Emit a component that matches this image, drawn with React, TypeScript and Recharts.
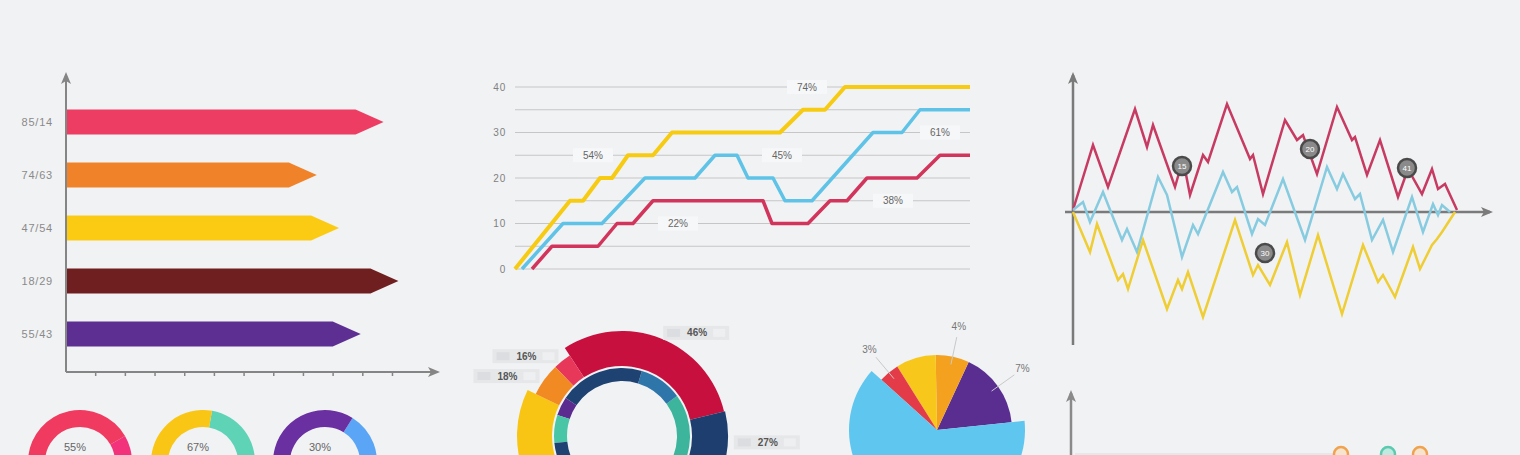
import React from 'react';
import {
  BarChart, Bar, XAxis, YAxis, LineChart, Line, CartesianGrid, ReferenceLine,
  ReferenceDot, PieChart, Pie, Cell, Label, ScatterChart, Scatter,
} from 'recharts';

const BG = '#f1f2f4';
const FONT = '"Liberation Sans", Arial, sans-serif';
const AXIS = '#858585';

// ---------- Panel 1: arrow bars ----------
const barCategories = ['85/14', '74/63', '47/54', '18/29', '55/43'];
const barValues = [10.7, 8.45, 9.2, 11.2, 9.93];
const barColors = ['#ee3d63', '#f0832a', '#fbcb14', '#6f1f1f', '#5e2f92'];
const barTicks = [1, 2, 3, 4, 5, 6, 7, 8, 9, 10, 11];

// ---------- Panel 2: stepped lines ----------
const yellowX = [0, 55, 68, 85, 97, 113, 138, 157, 265, 288, 310, 330, 455];
const yellowY = [0, 15, 15, 20, 20, 25, 25, 30, 30, 35, 35, 40, 40];
const blueX = [7, 48, 87, 130, 180, 200, 222, 233, 258, 270, 297, 358, 387, 405, 455];
const blueY = [0, 10, 10, 20, 20, 25, 25, 20, 20, 15, 15, 30, 30, 35, 35];
const redX = [17, 37, 83, 102, 118, 138, 248, 257, 293, 315, 332, 352, 402, 425, 455];
const redY = [0, 5, 5, 10, 10, 15, 15, 10, 10, 15, 15, 20, 20, 25, 25];
const stepTicks = [0, 5, 10, 15, 20, 25, 30, 35, 40];
const stepNoteX = [292, 78, 267, 425, 163, 378];
const stepNoteY = [40, 25, 25, 30, 10, 15];
const stepNoteText = ['74%', '54%', '45%', '61%', '22%', '38%'];

// ---------- Panel 3: random walks ----------
const walkRedX = [0, 20, 35, 62, 74, 80, 102, 110, 117, 130, 135, 154, 177, 180, 190, 212, 224, 230, 244, 264, 279, 282, 294, 307, 325, 335, 349, 359, 365, 372, 384];
const walkRedY = [2, 67, 25, 103, 65, 87, 25, 53, 17, 57, 50, 108, 53, 57, 18, 92, 72, 77, 38, 105, 72, 75, 37, 72, 15, 43, 18, 43, 23, 28, 2];
const walkBlueX = [0, 10, 17, 30, 49, 54, 64, 85, 94, 109, 120, 125, 150, 159, 164, 179, 185, 192, 210, 232, 254, 264, 270, 282, 287, 299, 310, 320, 339, 350, 360, 365, 369, 377];
const walkBlueY = [2, 10, -10, 20, -28, -17, -40, 35, 17, -45, -13, -22, 40, 20, 25, -22, -7, -13, 33, -28, 45, 23, 38, 13, 18, -28, -8, -40, 15, -20, 8, -3, 7, 0];
const walkYellowX = [0, 17, 24, 45, 50, 55, 70, 94, 105, 109, 115, 130, 162, 180, 185, 197, 214, 227, 245, 269, 290, 305, 310, 322, 340, 347, 359, 364, 369, 382];
const walkYellowY = [0, -40, -12, -68, -62, -77, -28, -97, -68, -77, -60, -105, -8, -63, -53, -73, -30, -83, -23, -102, -33, -70, -63, -85, -35, -57, -33, -27, -20, 0];
const walkNoteX = [109, 237, 334, 192];
const walkNoteY = [46, 63, 44, -41];
const walkNoteText = ['15', '20', '41', '30'];

// ---------- Panel 4: small donuts ----------
const donutLabels = ['55%', '67%', '30%'];
const donutValues = [[120, 145, 95], [170, 190], [148, 212]];
const donutColors = [['#f2337c', '#f03a5f', '#f58a2d'], ['#5fd3b6', '#f9c615'], ['#5aa5f6', '#6a2fa0']];

// ---------- Panel 5: gear donut ----------
const gearOuterValues = [109.5, 11, 20, 96, 90, 33.5];
const gearOuterColors = ['#c8103f', '#e8385a', '#f28a23', '#f8c514', '#1d3e6e', '#1d3e6e'];
const gearOuterRadius = [105, 96, 96, 105, 100, 106];
const gearOuterLabels = ['46%', '16%', '18%', '', '', '27%'];
const gearInnerValues = [76, 37, 73, 16, 24, 134];
const gearInnerColors = ['#3db59c', '#2e76aa', '#1e4271', '#5b2b8f', '#49c6a6', '#1e4271'];

// ---------- Panel 6: pie ----------
const pieValues = [59, 26, 31, 16, 228];
const pieColors = ['#5a2d90', '#f4a11f', '#f8c71b', '#e33b48', '#5fc6ef'];
const pieRadius = [75, 75, 75, 75, 88];
const pieLabels = ['7%', '4%', '', '3%', ''];

// ---------- Panel 7: bottom right ----------
const dotOrangeX = [270, 349];
const dotOrangeY = [21, 21];
const dotTealX = [317];
const dotTealY = [21];

const RAD = Math.PI / 180;
const zip = (xs: number[], ys: number[]) => xs.map((x, i) => ({ x, y: ys[i] }));

const ArrowBar = (props: any) => {
  const { x, y, width, height, fill } = props;
  if (width <= 0) return null;
  const head = Math.min(28, width);
  const pts = `${x},${y} ${x + width - head},${y} ${x + width},${y + height / 2} ${x + width - head},${y + height} ${x},${y + height}`;
  return <polygon points={pts} fill={fill} />;
};

const NoteBox = (text: string) => (props: any) => {
  const { cx, cy } = props;
  return (
    <g>
      <rect x={cx - 20} y={cy - 7} width={40} height={14} fill="#f6f7f8" />
      <text x={cx} y={cy + 3.5} textAnchor="middle" fontSize={10} fill="#666" fontFamily={FONT}>{text}</text>
    </g>
  );
};

const Badge = (text: string) => (props: any) => {
  const { cx, cy } = props;
  return (
    <g>
      <circle cx={cx} cy={cy} r={9} fill="#8a8a8a" stroke="#4a4a4a" strokeWidth={2.5} />
      <text x={cx} y={cy + 3} textAnchor="middle" fontSize={8} fill="#fff" fontFamily={FONT}>{text}</text>
    </g>
  );
};

const P1 = { left: 0, top: 0, width: 450, height: 400, margin: { top: 75, right: 13, bottom: 18, left: 6 }, yW: 60, xH: 10 };
const P1plot = { l: P1.left + P1.margin.left + P1.yW, t: P1.top + P1.margin.top, r: P1.left + P1.width - P1.margin.right, b: P1.top + P1.height - P1.margin.bottom - P1.xH };
const P3 = { left: 1060, top: 65, width: 440, height: 290, margin: { top: 10, right: 10, bottom: 10, left: 5 }, xDom: [-8, 417], yDom: [-133, 137] };
const P3plot = { l: P3.left + P3.margin.left, t: P3.top + P3.margin.top, r: P3.left + P3.width - P3.margin.right, b: P3.top + P3.height - P3.margin.bottom };
const P3x0 = P3plot.l + (0 - P3.xDom[0]) * (P3plot.r - P3plot.l) / (P3.xDom[1] - P3.xDom[0]);
const P3y0 = P3plot.t + (P3.yDom[1] - 0) * (P3plot.b - P3plot.t) / (P3.yDom[1] - P3.yDom[0]);
const P7 = { left: 1058, top: 385, width: 440, height: 100, margin: { top: 8, right: 10, bottom: 10, left: 5 }, xDom: [-8, 417], yDom: [0, 82] };
const P7plot = { l: P7.left + P7.margin.left, t: P7.top + P7.margin.top, r: P7.left + P7.width - P7.margin.right };
const P7x0 = P7plot.l + (0 - P7.xDom[0]) * (P7plot.r - P7plot.l) / (P7.xDom[1] - P7.xDom[0]);

const arrowUp = (x: number, y: number) => `${x},${y} ${x - 5},${y + 12} ${x},${y + 9} ${x + 5},${y + 12}`;
const arrowRight = (x: number, y: number) => `${x},${y} ${x - 12},${y - 5} ${x - 9},${y} ${x - 12},${y + 5}`;

const abs = (left: number, top: number): React.CSSProperties => ({ position: 'absolute', left, top });

export default function App() {
  const barData = barCategories.map((name, i) => ({ name, value: barValues[i] }));

  const gearOuterData = gearOuterValues.map((v, i) => ({ name: 'o' + i, value: v }));
  const gearInnerData = gearInnerValues.map((v, i) => ({ name: 'i' + i, value: v }));
  const gearRadii = Array.from(new Set(gearOuterRadius));
  const pieData = pieValues.map((v, i) => ({ name: 'p' + i, value: v }));
  const pieRadii = Array.from(new Set(pieRadius));

  const gearLabel = (r: number) => (props: any) => {
    const { cx, cy, midAngle, index } = props;
    if (gearOuterRadius[index] !== r || !gearOuterLabels[index]) return null;
    const rr = r + 6;
    const px = cx + rr * Math.cos(-midAngle * RAD);
    const py = cy + rr * Math.sin(-midAngle * RAD);
    const right = Math.cos(-midAngle * RAD) >= 0;
    const x0 = right ? px : px - 66;
    return (
      <g key={'gl' + index}>
        <rect x={x0} y={py - 7} width={66} height={14} fill="#e6e7e9" />
        <rect x={x0 + 4} y={py - 4} width={13} height={8} fill="#dcdde0" />
        <rect x={x0 + 50} y={py - 4} width={12} height={8} fill="#eeeff1" />
        <text x={x0 + 34} y={py + 3.5} textAnchor="middle" fontSize={10} fontWeight="bold" fill="#555" fontFamily={FONT}>{gearOuterLabels[index]}</text>
      </g>
    );
  };

  const pieLabel = (r: number) => (props: any) => {
    const { cx, cy, midAngle, index } = props;
    if (pieRadius[index] !== r || !pieLabels[index]) return null;
    const c = Math.cos(-midAngle * RAD);
    const s = Math.sin(-midAngle * RAD);
    return (
      <g key={'pl' + index}>
        <line x1={cx + (r - 8) * c} y1={cy + (r - 8) * s} x2={cx + (r + 20) * c} y2={cy + (r + 20) * s} stroke="#c9c9c9" strokeWidth={1} />
        <text x={cx + (r + 30) * c} y={cy + (r + 30) * s + 3} textAnchor="middle" fontSize={10} fill="#777" fontFamily={FONT}>{pieLabels[index]}</text>
      </g>
    );
  };

  const donutCenters = [{ left: 13, top: 393 }, { left: 136, top: 393 }, { left: 258, top: 393 }];

  return (
    <div style={{ position: 'absolute', left: 0, top: 0, width: 1520, height: 455, background: BG, overflow: 'hidden', fontFamily: FONT }}>
      {/* Panel 1 */}
      <div style={abs(P1.left, P1.top)}>
        <BarChart width={P1.width} height={P1.height} data={barData} layout="vertical" margin={P1.margin}>
          <XAxis type="number" domain={[0, 12.5]} ticks={barTicks} tickFormatter={() => ''} height={P1.xH}
            axisLine={{ stroke: AXIS, strokeWidth: 2 }} tickLine={{ stroke: AXIS, strokeWidth: 1.5 }} tickSize={4} allowDataOverflow />
          <YAxis type="category" dataKey="name" width={P1.yW} padding={{ top: 20.5, bottom: 11.5 }}
            axisLine={{ stroke: AXIS, strokeWidth: 2 }} tickLine={false} tickSize={6} tickMargin={7}
            tick={{ fontSize: 11, fill: '#8a8a8a', fontFamily: FONT, letterSpacing: 0.8 }} />
          <Bar dataKey="value" barSize={25} shape={ArrowBar} isAnimationActive={false}>
            {barData.map((_, i) => <Cell key={i} fill={barColors[i]} />)}
          </Bar>
        </BarChart>
      </div>

      {/* Panel 2 */}
      <div style={abs(470, 70)}>
        <LineChart width={510} height={215} margin={{ top: 17, right: 10, bottom: 16, left: 15 }}>
          <CartesianGrid vertical={false} stroke="#c6c6c6" />
          <XAxis type="number" dataKey="x" domain={[0, 455]} hide allowDuplicatedCategory={false} />
          <YAxis type="number" domain={[0, 40]} ticks={stepTicks} width={30} axisLine={false} tickLine={false}
            tickSize={0} tickMargin={9} tickFormatter={(v: number) => (v % 10 === 0 ? String(v) : '')}
            tick={{ fontSize: 10, fill: '#808080', fontFamily: FONT, letterSpacing: 0.8 }} />
          {stepNoteText.map((t, i) => (
            <ReferenceDot key={t} x={stepNoteX[i]} y={stepNoteY[i]} r={0} shape={NoteBox(t)} />
          ))}
          <Line data={zip(redX, redY)} dataKey="y" type="linear" stroke="#d2345c" strokeWidth={3.5} dot={false} isAnimationActive={false} strokeLinejoin="round" />
          <Line data={zip(blueX, blueY)} dataKey="y" type="linear" stroke="#5ec3e6" strokeWidth={3.5} dot={false} isAnimationActive={false} strokeLinejoin="round" />
          <Line data={zip(yellowX, yellowY)} dataKey="y" type="linear" stroke="#f6cb12" strokeWidth={4} dot={false} isAnimationActive={false} strokeLinejoin="round" />
        </LineChart>
      </div>

      {/* Panel 3 */}
      <div style={abs(P3.left, P3.top)}>
        <LineChart width={P3.width} height={P3.height} margin={P3.margin}>
          <XAxis type="number" dataKey="x" domain={P3.xDom} hide allowDuplicatedCategory={false} />
          <YAxis type="number" domain={P3.yDom} hide />
          <ReferenceLine y={0} stroke="#7a7a7a" strokeWidth={2.5} />
          <ReferenceLine x={0} stroke="#7a7a7a" strokeWidth={2.5} />
          <Line data={zip(walkRedX, walkRedY)} dataKey="y" type="linear" stroke="#c73a62" strokeWidth={2.5} dot={false} isAnimationActive={false} />
          <Line data={zip(walkBlueX, walkBlueY)} dataKey="y" type="linear" stroke="#86cbe0" strokeWidth={2.5} dot={false} isAnimationActive={false} />
          <Line data={zip(walkYellowX, walkYellowY)} dataKey="y" type="linear" stroke="#efcd35" strokeWidth={2.5} dot={false} isAnimationActive={false} />
          {walkNoteText.map((t, i) => (
            <ReferenceDot key={t} x={walkNoteX[i]} y={walkNoteY[i]} r={0} shape={Badge(t)} />
          ))}
        </LineChart>
      </div>

      {/* Panel 4: donuts */}
      {donutLabels.map((lab, d) => (
        <div key={lab} style={abs(donutCenters[d].left, donutCenters[d].top)}>
          <PieChart width={124} height={130}>
            <Pie data={donutValues[d].map((v, i) => ({ name: 'd' + i, value: v }))} dataKey="value" cx={62} cy={64}
              innerRadius={35} outerRadius={52} startAngle={-90} endAngle={270} stroke="none" isAnimationActive={false}>
              {donutValues[d].map((_, i) => <Cell key={i} fill={donutColors[d][i]} />)}
              <Label value={lab} position="center" fill="#666" fontSize={11} fontFamily={FONT} dy={-11} />
            </Pie>
          </PieChart>
        </div>
      ))}

      {/* Panel 5: gear donut */}
      <div style={abs(470, 300)}>
        <PieChart width={330} height={160}>
          {gearRadii.map((r) => (
            <Pie key={'g' + r} data={gearOuterData} dataKey="value" cx={147} cy={131} innerRadius={70} outerRadius={r}
              startAngle={13.5} endAngle={373.5} stroke="none" isAnimationActive={false}
              label={gearLabel(r)} labelLine={false}>
              {gearOuterData.map((_, i) => <Cell key={i} fill={gearOuterRadius[i] === r ? gearOuterColors[i] : 'none'} />)}
            </Pie>
          ))}
          <Pie data={gearInnerData} dataKey="value" cx={147} cy={131} innerRadius={55} outerRadius={68}
            startAngle={-40} endAngle={320} stroke="#ffffff" strokeWidth={0} isAnimationActive={false}>
            {gearInnerData.map((_, i) => <Cell key={i} fill={gearInnerColors[i]} />)}
          </Pie>
        </PieChart>
      </div>

      {/* Panel 6: pie */}
      <div style={abs(820, 310)}>
        <PieChart width={220} height={150}>
          {pieRadii.map((r) => (
            <Pie key={'p' + r} data={pieData} dataKey="value" cx={112} cy={115} innerRadius={0} outerRadius={r}
              startAngle={6} endAngle={366} stroke="none" isAnimationActive={false}
              label={pieLabel(r)} labelLine={false}>
              {pieData.map((_, i) => <Cell key={i} fill={pieRadius[i] === r ? pieColors[i] : 'none'} />)}
            </Pie>
          ))}
        </PieChart>
      </div>

      {/* Panel 7 */}
      <div style={abs(P7.left, P7.top)}>
        <ScatterChart width={P7.width} height={P7.height} margin={P7.margin}>
          <XAxis type="number" dataKey="x" domain={P7.xDom} hide />
          <YAxis type="number" dataKey="y" domain={P7.yDom} hide />
          <ReferenceLine x={0} stroke="#8a8a8a" strokeWidth={2.5} />
          <ReferenceLine segment={[{ x: 4, y: 21 }, { x: 262, y: 21 }]} stroke="#dcdcdc" strokeWidth={1} />
          <Scatter data={zip(dotOrangeX, dotOrangeY)} isAnimationActive={false}
            shape={(p: any) => <circle cx={p.cx} cy={p.cy} r={7} fill="#f7e4cc" stroke="#f0a24e" strokeWidth={2.5} />} />
          <Scatter data={zip(dotTealX, dotTealY)} isAnimationActive={false}
            shape={(p: any) => <circle cx={p.cx} cy={p.cy} r={7} fill="#bfeadf" stroke="#5ccab0" strokeWidth={2.5} />} />
        </ScatterChart>
      </div>

      {/* axis arrowheads */}
      <svg width={1520} height={455} style={{ position: 'absolute', left: 0, top: 0, pointerEvents: 'none' }}>
        <polygon points={arrowUp(P1plot.l, P1plot.t - 3)} fill={AXIS} />
        <polygon points={arrowRight(P1plot.r + 3, P1plot.b)} fill={AXIS} />
        <polygon points={arrowUp(P3x0, P3plot.t - 3)} fill="#7a7a7a" />
        <polygon points={arrowRight(P3plot.r + 3, P3y0)} fill="#7a7a7a" />
        <polygon points={arrowUp(P7x0, P7plot.t - 3)} fill="#8a8a8a" />
      </svg>
    </div>
  );
}
